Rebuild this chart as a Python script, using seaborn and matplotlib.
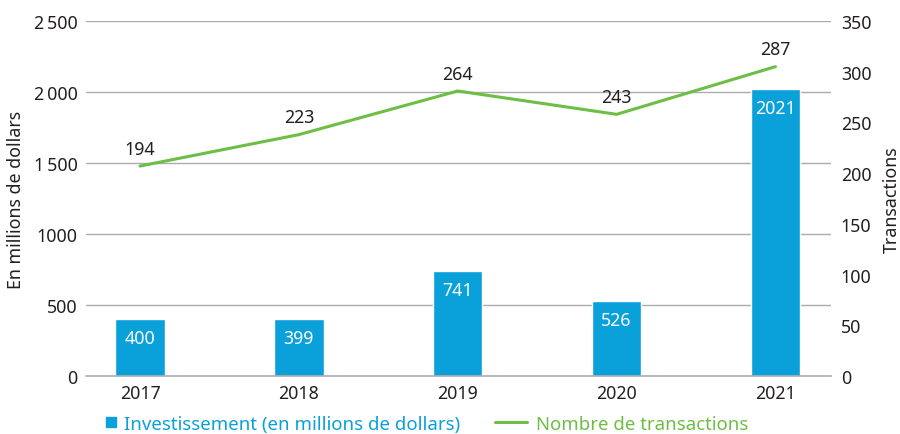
import matplotlib
matplotlib.use("Agg")
import matplotlib.pyplot as plt
import seaborn as sns
import pandas as pd
import numpy as np
from matplotlib.lines import Line2D

years = ["2017", "2018", "2019", "2020", "2021"]
investment = [400, 399, 741, 526, 2021]
transactions = [194, 223, 264, 243, 287]
# where the line sits on the right axis in the original picture
transactions_line = [207, 238, 281, 258, 305]

left_ticks = [0, 500, 1000, 1500, 2000, 2500]
left_ticklabels = ["0", "500", "1000", "1\u2009500", "2\u2009000", "2\u2009500"]
right_ticks = [0, 50, 100, 150, 200, 250, 300, 350]

BLUE = "#0aa0da"
GREEN = "#6dbe45"
GRID = "#a9adb1"
TEXT = "#231f20"
FS = 12.8

sns.set_theme(style="white")
plt.rcParams["font.family"] = ["Noto Sans", "DejaVu Sans"]

df = pd.DataFrame({"Year": years, "Investment": investment,
                   "Transactions": transactions, "Line": transactions_line})

fig = plt.figure(figsize=(9, 4.35), dpi=100)
ax = fig.add_axes([0.0956, 0.1333, 0.8278, 0.8161])

for y in left_ticks[1:]:
    ax.axhline(y, color=GRID, lw=1, zorder=0)

sns.barplot(data=df, x="Year", y="Investment", color=BLUE, width=0.31,
            saturation=1, ax=ax, zorder=2)
ax.set_ylim(0, 2500)
ax.set_xlim(-0.34, 4.35)
ax.set_yticks(left_ticks)
ax.set_yticklabels(left_ticklabels)
ax.set_xlabel("")
ax.set_ylabel("En millions de dollars", fontsize=FS, color=TEXT, labelpad=6)
ax.tick_params(axis="both", length=0, labelsize=FS, labelcolor=TEXT)
ax.tick_params(axis="y", pad=6)
ax.tick_params(axis="x", pad=6)
for s in ax.spines.values():
    s.set_visible(False)
ax.spines["bottom"].set_visible(True)
ax.spines["bottom"].set_color(GRID)
ax.spines["bottom"].set_linewidth(1.2)

for i, v in enumerate(investment):
    ax.annotate(str(v), (i, v), xytext=(0, -7), textcoords="offset points",
                ha="center", va="top", color="white", fontsize=FS)

ax2 = ax.twinx()
sns.lineplot(data=df, x="Year", y="Line", color=GREEN, lw=2.2, sort=False,
             ax=ax2, zorder=3)
ax2.set_ylim(0, 350)
ax2.set_yticks(right_ticks)
ax2.set_ylabel("Transactions", fontsize=FS, color=TEXT, labelpad=8)
ax2.tick_params(axis="y", length=0, labelsize=FS, labelcolor=TEXT, pad=7)
for s in ax2.spines.values():
    s.set_visible(False)

for i, (v, lab) in enumerate(zip(transactions_line, transactions)):
    ax2.annotate(str(lab), (i, v), xytext=(0, 6), textcoords="offset points",
                 ha="center", va="bottom", color=TEXT, fontsize=FS)

bar_handle = Line2D([], [], marker="s", linestyle="none", color=BLUE, markersize=7.5)
line_handle = Line2D([], [], color=GREEN, lw=2.2)
fig.legend([bar_handle], ["Investissement (en millions de dollars)"],
           loc="center left", bbox_to_anchor=(0.113, 0.024), frameon=False,
           fontsize=13.4, labelcolor=BLUE, handlelength=0.8,
           handletextpad=0.3, borderpad=0.1, borderaxespad=0)
fig.legend([line_handle], ["Nombre de transactions"],
           loc="center left", bbox_to_anchor=(0.548, 0.024), frameon=False,
           fontsize=13.4, labelcolor=GREEN, handlelength=1.7,
           handletextpad=0.5, borderpad=0.1, borderaxespad=0)

fig.savefig("out.png", dpi=100)
